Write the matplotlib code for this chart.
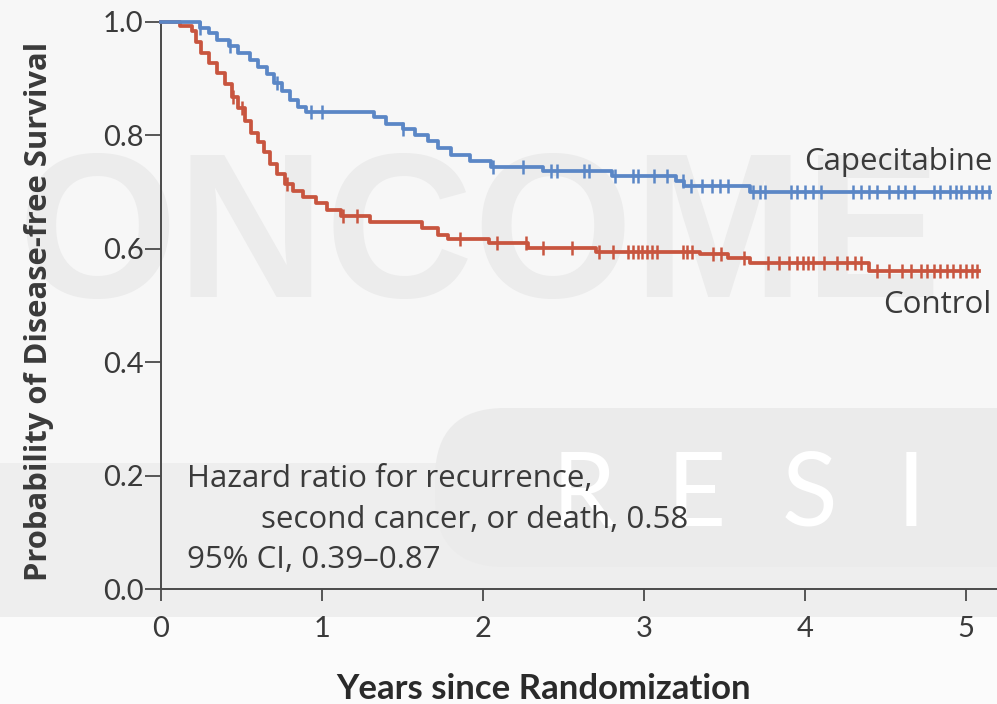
import numpy as np
import matplotlib
matplotlib.use("Agg")
import matplotlib.pyplot as plt
from matplotlib.patches import Rectangle, FancyBboxPatch

# ---------------- data ----------------
# Capecitabine arm: times of events (years) and survival after each step
cape_event_times = [0.24, 0.30, 0.35, 0.42, 0.48, 0.55, 0.60, 0.66, 0.70, 0.75,
                    0.80, 0.85, 0.90, 1.32, 1.40, 1.50, 1.58, 1.66, 1.72, 1.80,
                    1.92, 2.05, 2.37, 2.80, 3.20, 3.25, 3.66]
cape_survival = [0.990, 0.980, 0.968, 0.958, 0.945, 0.933, 0.920, 0.908, 0.893, 0.878,
                 0.862, 0.850, 0.842, 0.832, 0.820, 0.812, 0.800, 0.790, 0.778, 0.765,
                 0.755, 0.745, 0.738, 0.729, 0.720, 0.711, 0.700]
cape_end = 5.15
cape_censored = [0.24, 0.43, 0.72, 0.93, 1.00, 1.50, 2.06, 2.25, 2.42, 2.46, 2.63, 2.66,
                 2.82, 2.93, 2.96, 3.06, 3.14, 3.24, 3.29, 3.36, 3.42, 3.47, 3.52, 3.68,
                 3.72, 3.75, 3.91, 3.95, 4.00, 4.05, 4.10, 4.30, 4.35, 4.40, 4.45, 4.52,
                 4.58, 4.62, 4.68, 4.80, 4.84, 4.90, 4.94, 4.97, 5.02, 5.06, 5.10, 5.14]

# Control arm
ctrl_event_times = [0.12, 0.19, 0.22, 0.25, 0.30, 0.35, 0.40, 0.44, 0.48, 0.52,
                    0.56, 0.60, 0.64, 0.68, 0.72, 0.77, 0.82, 0.88, 0.96, 1.03,
                    1.12, 1.30, 1.62, 1.72, 1.78, 2.04, 2.28, 2.70, 3.35, 3.52,
                    3.66, 4.40]
ctrl_survival = [0.993, 0.985, 0.965, 0.945, 0.928, 0.910, 0.890, 0.868, 0.848, 0.826,
                 0.805, 0.788, 0.770, 0.750, 0.732, 0.715, 0.702, 0.692, 0.680, 0.668,
                 0.657, 0.647, 0.637, 0.625, 0.618, 0.610, 0.602, 0.595, 0.590, 0.584,
                 0.575, 0.560]
ctrl_end = 5.08
ctrl_censored = [0.45, 0.50, 0.78, 1.13, 1.22, 1.86, 2.09, 2.27, 2.37, 2.55, 2.72, 2.81,
                 2.90, 2.93, 2.96, 2.99, 3.02, 3.05, 3.08, 3.24, 3.27, 3.30, 3.43, 3.48,
                 3.62, 3.77, 3.84, 3.90, 3.95, 3.99, 4.02, 4.05, 4.12, 4.20, 4.26, 4.31,
                 4.35, 4.45, 4.52, 4.60, 4.66, 4.72, 4.76, 4.80, 4.84, 4.88, 4.92, 4.96,
                 5.00, 5.04, 5.07]

x_ticks = [0, 1, 2, 3, 4, 5]
y_ticks = [0.0, 0.2, 0.4, 0.6, 0.8, 1.0]
y_tick_labels = ["0.0", "0.2", "0.4", "0.6", "0.8", "1.0"]

hr_lines = ["Hazard ratio for recurrence,",
            "second cancer, or death, 0.58",
            "95% CI, 0.39\u20130.87"]

BLUE = "#5b87c6"
RED = "#c8553f"
INK = "#3a3a3a"
AXC = "#4a4a4a"

TEXT_FONT = ["Open Sans", "DejaVu Sans"]
TICK_FONT = ["Lato", "DejaVu Sans"]

W, H = 997, 704
fig = plt.figure(figsize=(W / 100, H / 100), dpi=100, facecolor="#f7f7f7")

# ---------------- background layer (pixel coordinates) ----------------
bg = fig.add_axes([0, 0, 1, 1], zorder=-10)
bg.set_xlim(0, W)
bg.set_ylim(H, 0)
bg.axis("off")
bg.add_patch(Rectangle((0, 463), W, 154, color="#eeeeee", lw=0, zorder=0))
bg.add_patch(Rectangle((0, 617), W, H - 617, color="#fbfbfb", lw=0, zorder=0))
bg.add_patch(FancyBboxPatch((435, 408), 700, 159,
                            boxstyle="round,pad=0,rounding_size=70",
                            color="#ebebeb", lw=0, zorder=1))
bg.text(18, 297, "ONCOME", fontsize=148, fontweight="bold",
        family=["Liberation Sans", "DejaVu Sans"], color="#ececec",
        ha="left", va="baseline", zorder=2)
for i, letter in enumerate("RESI"):
    bg.text(552 + i * 115, 526, letter, fontsize=74, fontweight="normal",
            family=["Lato", "DejaVu Sans"], color="white", ha="left",
            va="baseline", zorder=3)

# ---------------- main axes ----------------
left, right, top, bottom = 161, 997, 22, 589
ax = fig.add_axes([left / W, (H - bottom) / H, (right - left) / W, (bottom - top) / H],
                  facecolor="none", zorder=1)
ax.set_xlim(0, (right - left) / 161)
ax.set_ylim(0, 1.0)


def km_curve(event_times, survival, end):
    t = np.concatenate([[0.0], event_times, [end]])
    s = np.concatenate([[1.0], survival, [survival[-1]]])
    return t, s


def surv_at(times, event_times, survival):
    s = np.concatenate([[1.0], survival])
    idx = np.searchsorted(np.asarray(event_times), np.asarray(times), side="right")
    return s[idx]


for ev, sv, end, cens, col in [
    (ctrl_event_times, ctrl_survival, ctrl_end, ctrl_censored, RED),
    (cape_event_times, cape_survival, cape_end, cape_censored, BLUE),
]:
    t, s = km_curve(ev, sv, end)
    ax.step(t, s, where="post", color=col, lw=2.7, clip_on=False, zorder=3)
    ax.plot(cens, surv_at(cens, ev, sv), ls="none", marker="|", ms=10, mew=1.8,
            color=col, clip_on=False, zorder=4)

for side in ["top", "right"]:
    ax.spines[side].set_visible(False)
for side in ["left", "bottom"]:
    ax.spines[side].set_color(AXC)
    ax.spines[side].set_linewidth(1.4)

ax.set_xticks(x_ticks)
ax.set_yticks(y_ticks)
ax.set_yticklabels(y_tick_labels)
ax.tick_params(axis="both", direction="out", width=1.3, color=AXC,
               labelsize=21, labelcolor=INK)
ax.tick_params(axis="y", length=11.5, pad=1)
ax.tick_params(axis="x", length=8.5, pad=11)
for lab in ax.get_xticklabels() + ax.get_yticklabels():
    lab.set_family(TICK_FONT)

ax.set_ylabel("Probability of Disease-free Survival", fontsize=22.3,
              fontweight="bold", family=TEXT_FONT, color=INK)
ax.yaxis.set_label_coords(-0.128, 0.49)
ax.set_xlabel("Years since Randomization", fontsize=25, fontweight="bold",
              family=TICK_FONT, color="#2a2a2a")
ax.xaxis.set_label_coords(0.458, -0.148)

# curve labels
ax.text(0.995, 1 - (170 - top) / (bottom - top), "Capecitabine",
        transform=ax.transAxes, ha="right", va="baseline",
        fontsize=22.5, family=TEXT_FONT, color=INK)
ax.text(0.993, 1 - (313 - top) / (bottom - top), "Control",
        transform=ax.transAxes, ha="right", va="baseline",
        fontsize=22.5, family=TEXT_FONT, color=INK)

# hazard ratio annotation
ax.text(0.16, 0.180, hr_lines[0], ha="left", va="baseline", fontsize=22.5,
        family=TEXT_FONT, color=INK)
ax.text(0.62, 0.108, hr_lines[1], ha="left", va="baseline", fontsize=22.5,
        family=TEXT_FONT, color=INK)
ax.text(0.16, 0.037, hr_lines[2], ha="left", va="baseline", fontsize=22.5,
        family=TEXT_FONT, color=INK)

fig.savefig("out.png", dpi=100, facecolor=fig.get_facecolor())
